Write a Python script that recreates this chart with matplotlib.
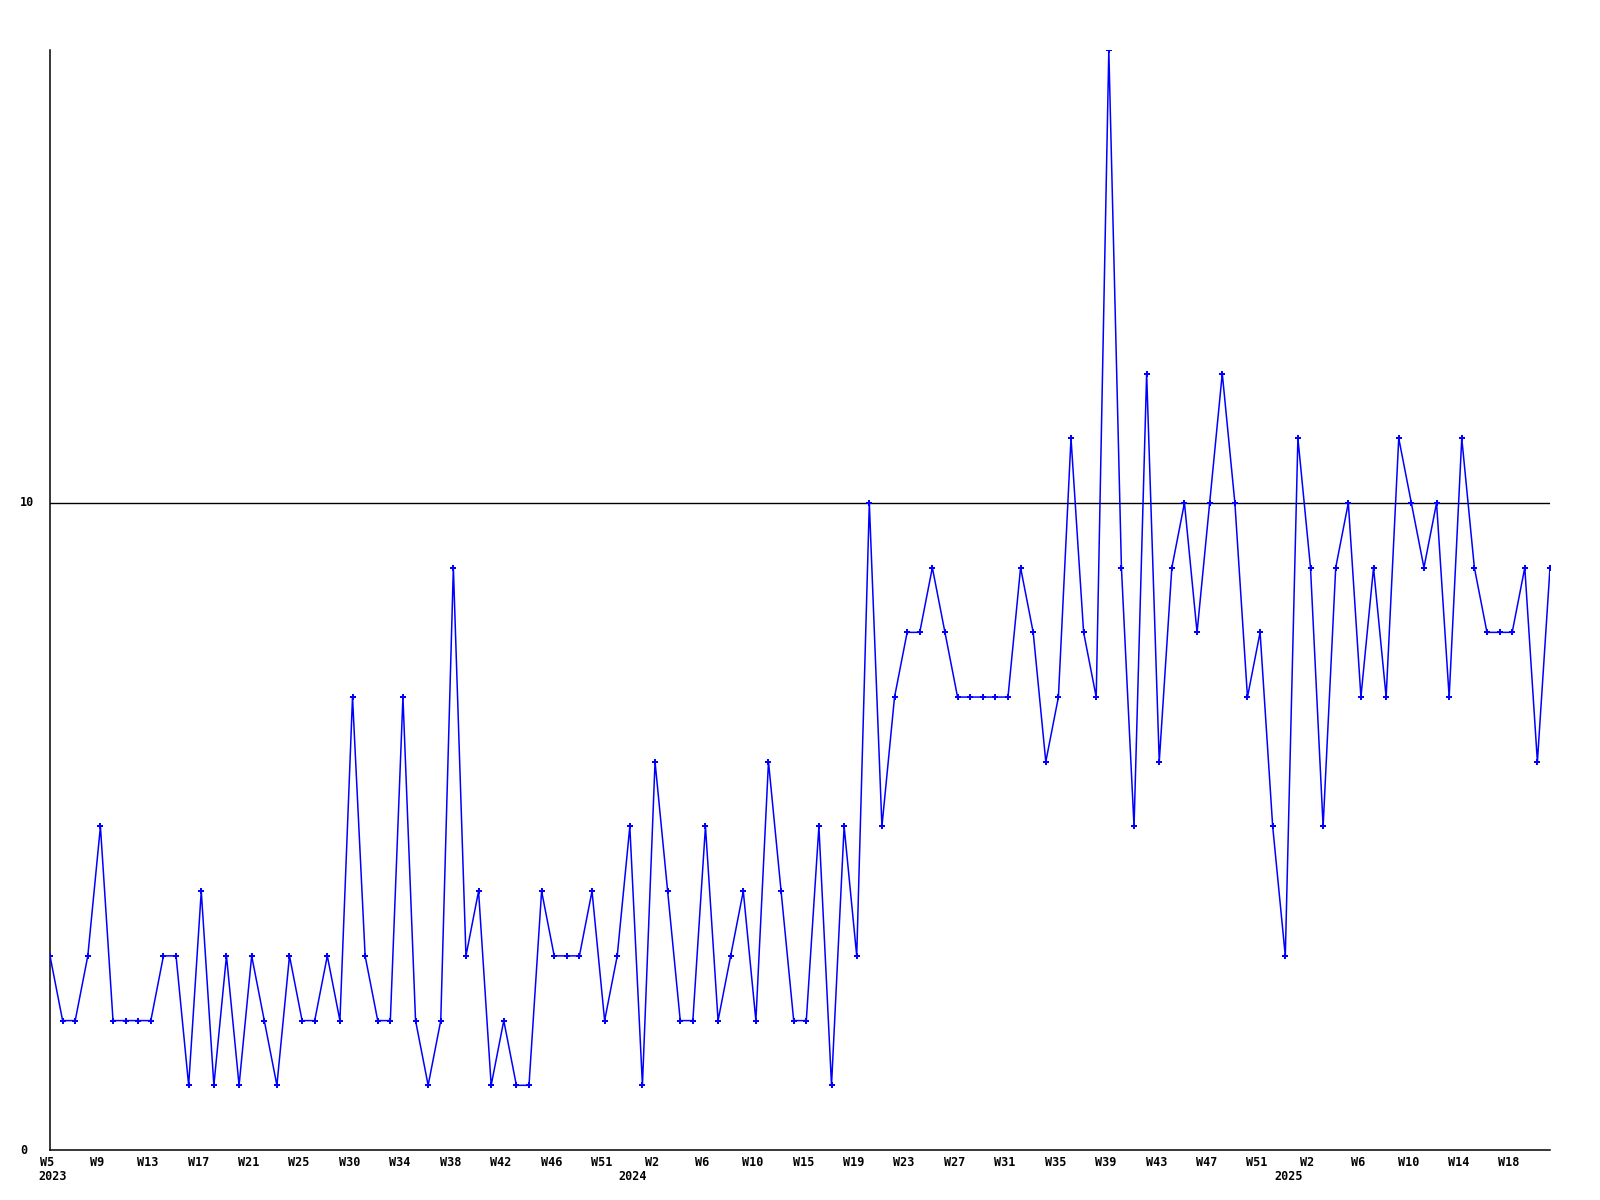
import matplotlib
matplotlib.use('Agg')
import matplotlib.pyplot as plt

# weekly counts, 2023 W5 .. 2025 W20
values = [
    3, 2, 2, 3, 5, 2, 2, 2, 2, 3, 3, 1, 4, 1, 3, 1, 3, 2, 1, 3,
    2, 2, 3, 2, 7, 3, 2, 2, 7, 2, 1, 2, 9, 3, 4, 1, 2, 1, 1, 4,
    3, 3, 3, 4, 2, 3, 5, 1, 6, 4, 2, 2, 5, 2, 3, 4, 2, 6, 4, 2,
    2, 5, 1, 5, 3, 10, 5, 7, 8, 8, 9, 8, 7, 7, 7, 7, 7, 9, 8, 6,
    7, 11, 8, 7, 17, 9, 5, 12, 6, 9, 10, 8, 10, 12, 10, 7, 8, 5, 3, 11,
    9, 5, 9, 10, 7, 9, 7, 11, 10, 9, 10, 7, 11, 9, 8, 8, 8, 9, 6, 9,
]

week_labels = ['W5', 'W9', 'W13', 'W17', 'W21', 'W25', 'W30', 'W34', 'W38', 'W42',
               'W46', 'W51', 'W2', 'W6', 'W10', 'W15', 'W19', 'W23', 'W27', 'W31',
               'W35', 'W39', 'W43', 'W47', 'W51', 'W2', 'W6', 'W10', 'W14', 'W18']
week_label_step = 4

years = ['2023', '2024', '2025']
year_pos = [0, 46, 98]   # index of first week of each year

y_ticks = [0, 10]

FONT = dict(family='DejaVu Sans Mono', fontweight='bold', fontsize=8.5)

fig = plt.figure(figsize=(16, 12), dpi=100)
ax = fig.add_axes([50 / 1600, 1 - 1150 / 1200, 1500 / 1600, 1100 / 1200])

x = list(range(len(values)))
ax.plot(x, values, color='#0000ff', linewidth=1.1, marker='P',
        markersize=4, markeredgewidth=0, zorder=3)

for yv in y_ticks[1:]:
    ax.axhline(yv, color='black', linewidth=1, zorder=2)

ax.set_xlim(0, len(values) - 1)
ax.set_ylim(0, 17)

for s in ['top', 'right']:
    ax.spines[s].set_visible(False)
for s in ['left', 'bottom']:
    ax.spines[s].set_color('black')
    ax.spines[s].set_linewidth(1.1)

ax.set_xticks([])
ax.set_yticks([])

# y labels, left-aligned near the figure edge
for yv in y_ticks:
    ax.annotate(str(yv), xy=(0, yv), xycoords=('axes fraction', 'data'),
                xytext=(-30, 0), textcoords='offset pixels',
                ha='left', va='center', **FONT)

# week labels
for i, lab in enumerate(week_labels):
    ax.annotate(lab, xy=(i * week_label_step, 0), xycoords='data',
                xytext=(-3, -12), textcoords='offset pixels',
                ha='center', va='center', **FONT)

# year labels
for pos, yr in zip(year_pos, years):
    ax.annotate(yr, xy=(pos, 0), xycoords='data',
                xytext=(3, -27), textcoords='offset pixels',
                ha='center', va='center', **FONT)

fig.savefig('out.png', dpi=100, facecolor='white')
